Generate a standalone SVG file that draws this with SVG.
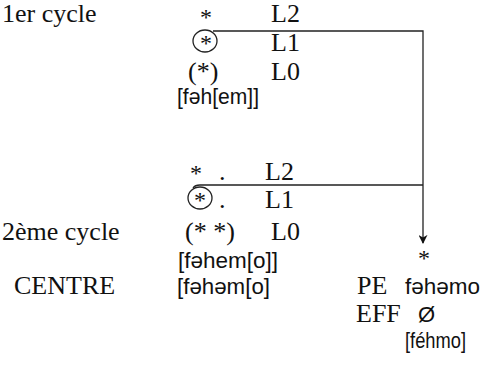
<svg xmlns="http://www.w3.org/2000/svg" width="495" height="371" viewBox="0 0 495 371">
<defs>
<style>
.s{font-family:"Liberation Serif","Times New Roman",serif;font-size:26px;fill:#111}
.a{font-family:"Liberation Serif","Times New Roman",serif;font-size:24px;fill:#111}
.i{font-family:"Liberation Sans",Arial,sans-serif;font-size:22px;fill:#111}
.ln{stroke:#222;stroke-width:1.3;fill:none}
</style>
<marker id="ah" viewBox="0 0 10 10" refX="9" refY="5" markerWidth="9" markerHeight="9" orient="auto" markerUnits="userSpaceOnUse">
<path d="M0,0 L10,5 L0,10 L3,5 z" fill="#111"/>
</marker>
</defs>
<rect width="495" height="371" fill="#fff"/>
<g id="cycle1">
<text class="s" x="2" y="22">1er cycle</text>
<text class="a" x="200" y="25">*</text>
<text class="s" x="271" y="22">L2</text>
<ellipse class="ln" cx="205" cy="41" rx="12" ry="11"/>
<text class="a" x="200" y="51">*</text>
<text class="s" x="271" y="51">L1</text>
<text class="s" x="188" y="80">(*)</text>
<text class="s" x="271" y="80">L0</text>
<text class="i" x="177" y="104" textLength="82" lengthAdjust="spacingAndGlyphs">[fəh[em]]</text>
</g>
<g id="cycle2">
<text class="a" x="190" y="181">*</text>
<text class="s" x="219" y="180">.</text>
<text class="s" x="265" y="180">L2</text>
<ellipse class="ln" cx="200" cy="198" rx="12" ry="11"/>
<text class="a" x="194" y="208">*</text>
<text class="s" x="219" y="208">.</text>
<text class="s" x="265" y="208">L1</text>
<text class="s" x="2" y="240">2ème cycle</text>
<text class="s" x="185" y="240" textLength="50" lengthAdjust="spacingAndGlyphs">(*  *)</text>
<text class="s" x="271" y="240">L0</text>
<text class="i" x="178" y="268" textLength="100" lengthAdjust="spacingAndGlyphs">[fəhem[o]]</text>
</g>
<g id="centre">
<text class="s" x="14" y="294">CENTRE</text>
<text class="i" x="177" y="294" textLength="93" lengthAdjust="spacingAndGlyphs">[fəhəm[o]</text>
</g>
<g id="result">
<text class="a" x="418" y="266">*</text>
<text class="s" x="357" y="294">PE</text>
<text class="i" x="405" y="294" textLength="75" lengthAdjust="spacingAndGlyphs">fəhəmo</text>
<text class="s" x="356" y="322">EFF</text>
<text class="i" x="418" y="322">Ø</text>
<text class="i" x="405" y="348" textLength="61" lengthAdjust="spacingAndGlyphs">[féhmo]</text>
</g>
<g id="connectors">
<path class="ln" d="M213,31 H423 V243" marker-end="url(#ah)"/>
<path class="ln" d="M193,188 Q195,185 200,185 H423"/>
</g>
</svg>
